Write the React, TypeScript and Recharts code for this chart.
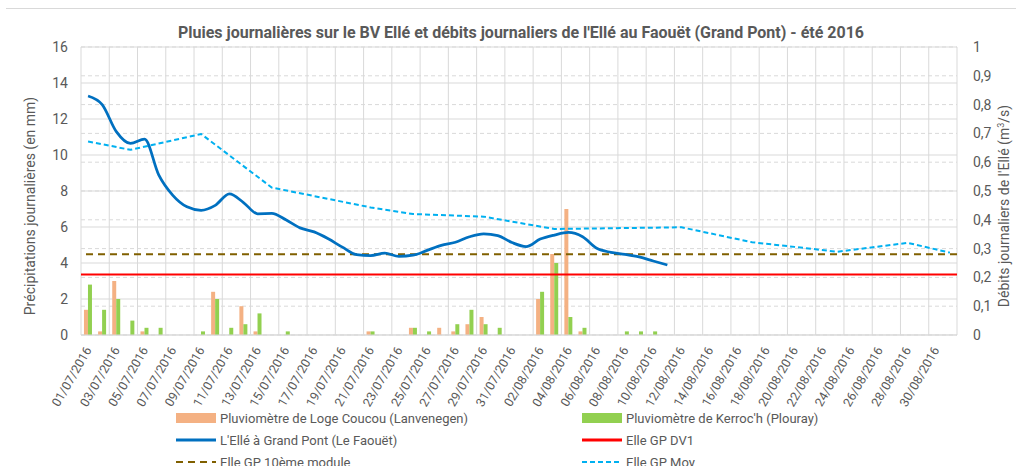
import { Bar, CartesianGrid, ComposedChart, Line, ReferenceLine, XAxis, YAxis } from "recharts";

// jours du 01/07/2016 au 31/08/2016
const dates = [
  "01/07/2016", "02/07/2016", "03/07/2016", "04/07/2016", "05/07/2016", "06/07/2016", "07/07/2016", "08/07/2016",
  "09/07/2016", "10/07/2016", "11/07/2016", "12/07/2016", "13/07/2016", "14/07/2016", "15/07/2016", "16/07/2016",
  "17/07/2016", "18/07/2016", "19/07/2016", "20/07/2016", "21/07/2016", "22/07/2016", "23/07/2016", "24/07/2016",
  "25/07/2016", "26/07/2016", "27/07/2016", "28/07/2016", "29/07/2016", "30/07/2016", "31/07/2016",
  "01/08/2016", "02/08/2016", "03/08/2016", "04/08/2016", "05/08/2016", "06/08/2016", "07/08/2016", "08/08/2016",
  "09/08/2016", "10/08/2016", "11/08/2016", "12/08/2016", "13/08/2016", "14/08/2016", "15/08/2016", "16/08/2016",
  "17/08/2016", "18/08/2016", "19/08/2016", "20/08/2016", "21/08/2016", "22/08/2016", "23/08/2016", "24/08/2016",
  "25/08/2016", "26/08/2016", "27/08/2016", "28/08/2016", "29/08/2016", "30/08/2016", "31/08/2016",
];

// pluie (mm) - Loge Coucou (Lanvenegen)
const pluieLogeCoucou = [
  1.4, 0.2, 3.0, null, 0.2, null, null, null, null, 2.4, null, 1.6, 0.2, null, null, null,
  null, null, null, null, 0.2, null, null, 0.4, null, 0.4, 0.2, 0.6, 1.0, null, null,
  null, 2.0, 4.5, 7.0, 0.2, null, null, null, null, null, null, null, null, null, null,
  null, null, null, null, null, null, null, null, null, null, null, null, null, null, null, null,
];

// pluie (mm) - Kerroc'h (Plouray)
const pluieKerroch = [
  2.8, 1.4, 2.0, 0.8, 0.4, 0.4, null, null, 0.2, 2.0, 0.4, 0.6, 1.2, null, 0.2, null,
  null, null, null, null, 0.2, null, null, 0.4, 0.2, null, 0.6, 1.4, 0.6, 0.4, null,
  null, 2.4, 4.0, 1.0, 0.4, null, null, 0.2, 0.2, 0.2, null, null, null, null, null,
  null, null, null, null, null, null, null, null, null, null, null, null, null, null, null, null,
];

// débit (m3/s) - L'Ellé à Grand Pont, jusqu'au 11/08
const debitGrandPont = [
  0.83, 0.8, 0.706, 0.665, 0.68, 0.556, 0.485, 0.445, 0.433, 0.45, 0.49, 0.46, 0.421, 0.422, 0.4, 0.372,
  0.358, 0.334, 0.305, 0.279, 0.276, 0.284, 0.273, 0.277, 0.294, 0.311, 0.322, 0.341, 0.351, 0.345, 0.321,
  0.307, 0.333, 0.347, 0.356, 0.341, 0.301, 0.287, 0.28, 0.271, 0.257, 0.243,
];

// débit moyen (m3/s), points relevés
const debitMoy = [
  0.672, null, null, 0.643, null, null, null, null, 0.698, null, null, null, null, 0.512, null, null,
  null, null, null, null, 0.443, null, null, 0.42, null, null, null, null, 0.411, null, null,
  null, null, 0.368, null, null, null, null, null, null, null, null, 0.374, null, null, null,
  null, 0.322, null, null, 0.306, null, null, 0.289, null, null, null, null, 0.32, null, null, 0.286,
];

const DV1 = 0.21;
const MODULE_10 = 0.28;

const pluieTicks = [0, 2, 4, 6, 8, 10, 12, 14, 16];
const debitTicks = [0, 0.1, 0.2, 0.3, 0.4, 0.5, 0.6, 0.7, 0.8, 0.9, 1];

const FONT = "Roboto, 'Open Sans', sans-serif";
const GREY = "#595959";

const chartData = dates.map((date, i) => ({
  date,
  loge: pluieLogeCoucou[i],
  kerroch: pluieKerroch[i],
  grandPont: i < debitGrandPont.length ? debitGrandPont[i] : null,
  moy: debitMoy[i],
}));

function DateTick({ x, y, payload }: any) {
  const ax = x + 4;
  const ay = y + 7;
  return (
    <text
      x={ax}
      y={ay}
      transform={`rotate(-60, ${ax}, ${ay})`}
      textAnchor="end"
      fill={GREY}
      fontSize={12.5}
      fontFamily={FONT}
    >
      {payload.value}
    </text>
  );
}

const legendItems = [
  { label: "Pluviomètre de Loge Coucou (Lanvenegen)", color: "#F4B183", kind: "box" },
  { label: "Pluviomètre de Kerroc'h (Plouray)", color: "#92D050", kind: "box" },
  { label: "L'Ellé à Grand Pont (Le Faouët)", color: "#0070C0", kind: "line" },
  { label: "Elle GP DV1", color: "#FF0000", kind: "line" },
  { label: "Elle GP 10ème module", color: "#806000", kind: "dash" },
  { label: "Elle GP Moy", color: "#00B0F0", kind: "dot" },
];

function Swatch({ color, kind }: { color: string; kind: string }) {
  return (
    <svg width={40} height={12} style={{ marginRight: 4, flexShrink: 0 }}>
      {kind === "box" && <rect x={0} y={1} width={40} height={10} fill={color} />}
      {kind === "line" && <line x1={0} x2={40} y1={6} y2={6} stroke={color} strokeWidth={3} />}
      {kind === "dash" && (
        <line x1={0} x2={40} y1={6} y2={6} stroke={color} strokeWidth={2} strokeDasharray="7 5" />
      )}
      {kind === "dot" && (
        <line x1={0} x2={40} y1={6} y2={6} stroke={color} strokeWidth={2} strokeDasharray="5 3" />
      )}
    </svg>
  );
}

export default function App() {
  return (
    <div
      style={{
        position: "absolute",
        left: 0,
        top: 0,
        width: 1016,
        height: 466,
        background: "#fff",
        overflow: "hidden",
        fontFamily: FONT,
      }}
    >
      <div style={{ position: "absolute", left: 6, right: 0, top: 8, height: 1, background: "#d9d9d9" }} />
      <div
        style={{
          position: "absolute",
          left: 81,
          width: 880,
          top: 24,
          lineHeight: "18px",
          textAlign: "center",
          fontSize: 16,
          fontWeight: "bold",
          color: GREY,
        }}
      >
        Pluies journalières sur le BV Ellé et débits journaliers de l'Ellé au Faouët (Grand Pont) - été 2016
      </div>

      <ComposedChart
        width={1016}
        height={466}
        data={chartData}
        margin={{ top: 47, right: 0, bottom: 0, left: 0 }}
        barCategoryGap="21%"
        barGap={0}
      >
        <CartesianGrid
          yAxisId="debit"
          vertical={false}
          stroke="#d9d9d9"
          strokeDasharray="4 3"
        />
        <CartesianGrid yAxisId="pluie" vertical={false} stroke="#d9d9d9" />
        <CartesianGrid
          yAxisId="pluie"
          horizontal={false}
          stroke="#d9d9d9"
          verticalCoordinatesGenerator={({ offset }: any) =>
            Array.from({ length: 32 }, (_, k) => offset.left + (k * offset.width) / 31)
          }
        />
        <XAxis
          dataKey="date"
          height={131}
          interval={1}
          tickLine={false}
          axisLine={{ stroke: "#d9d9d9" }}
          tick={<DateTick />}
        />
        <YAxis
          yAxisId="pluie"
          orientation="left"
          width={81}
          domain={[0, 16]}
          ticks={pluieTicks}
          axisLine={false}
          tickLine={false}
          tickMargin={7}
          tick={{ fill: GREY, fontSize: 14, fontFamily: FONT }}
        />
        <YAxis
          yAxisId="debit"
          orientation="right"
          width={59}
          domain={[0, 1]}
          ticks={debitTicks}
          axisLine={false}
          tickLine={false}
          tickMargin={10}
          tickFormatter={(v: number) => String(Math.round(v * 10) / 10).replace(".", ",")}
          tick={{ fill: GREY, fontSize: 14, fontFamily: FONT, textAnchor: "start" }}
        />
        <Bar yAxisId="pluie" dataKey="loge" fill="#F4B183" isAnimationActive={false} />
        <Bar yAxisId="pluie" dataKey="kerroch" fill="#92D050" isAnimationActive={false} />
        <ReferenceLine yAxisId="debit" y={DV1} stroke="#FF0000" strokeWidth={2} />
        <ReferenceLine yAxisId="debit" y={MODULE_10} stroke="#806000" strokeWidth={2} strokeDasharray="7 5" />
        <Line
          yAxisId="debit"
          dataKey="moy"
          type="linear"
          connectNulls
          stroke="#00B0F0"
          strokeWidth={2}
          strokeDasharray="5 3"
          dot={false}
          isAnimationActive={false}
        />
        <Line
          yAxisId="debit"
          dataKey="grandPont"
          type="monotone"
          stroke="#0070C0"
          strokeWidth={2.75}
          dot={false}
          isAnimationActive={false}
        />
      </ComposedChart>

      <div
        style={{
          position: "absolute",
          left: 30,
          top: 206,
          transform: "translate(-50%, -50%) rotate(-90deg)",
          whiteSpace: "nowrap",
          fontSize: 14,
          color: GREY,
        }}
      >
        Précipitations journalières (en mm)
      </div>
      <div
        style={{
          position: "absolute",
          left: 1004,
          top: 206,
          transform: "translate(-50%, -50%) rotate(-90deg)",
          whiteSpace: "nowrap",
          fontSize: 14,
          color: GREY,
        }}
      >
        Débits journaliers de l'Ellé  (m<sup style={{ fontSize: 9 }}>3</sup>/s)
      </div>

      <div
        style={{
          position: "absolute",
          left: 176,
          top: 407,
          width: 840,
          display: "grid",
          gridTemplateColumns: "406px 406px",
          fontSize: 13,
          color: GREY,
        }}
      >
        {legendItems.map((it) => (
          <div key={it.label} style={{ display: "flex", alignItems: "center", height: 22, whiteSpace: "nowrap" }}>
            <Swatch color={it.color} kind={it.kind} />
            {it.label}
          </div>
        ))}
      </div>
    </div>
  );
}
